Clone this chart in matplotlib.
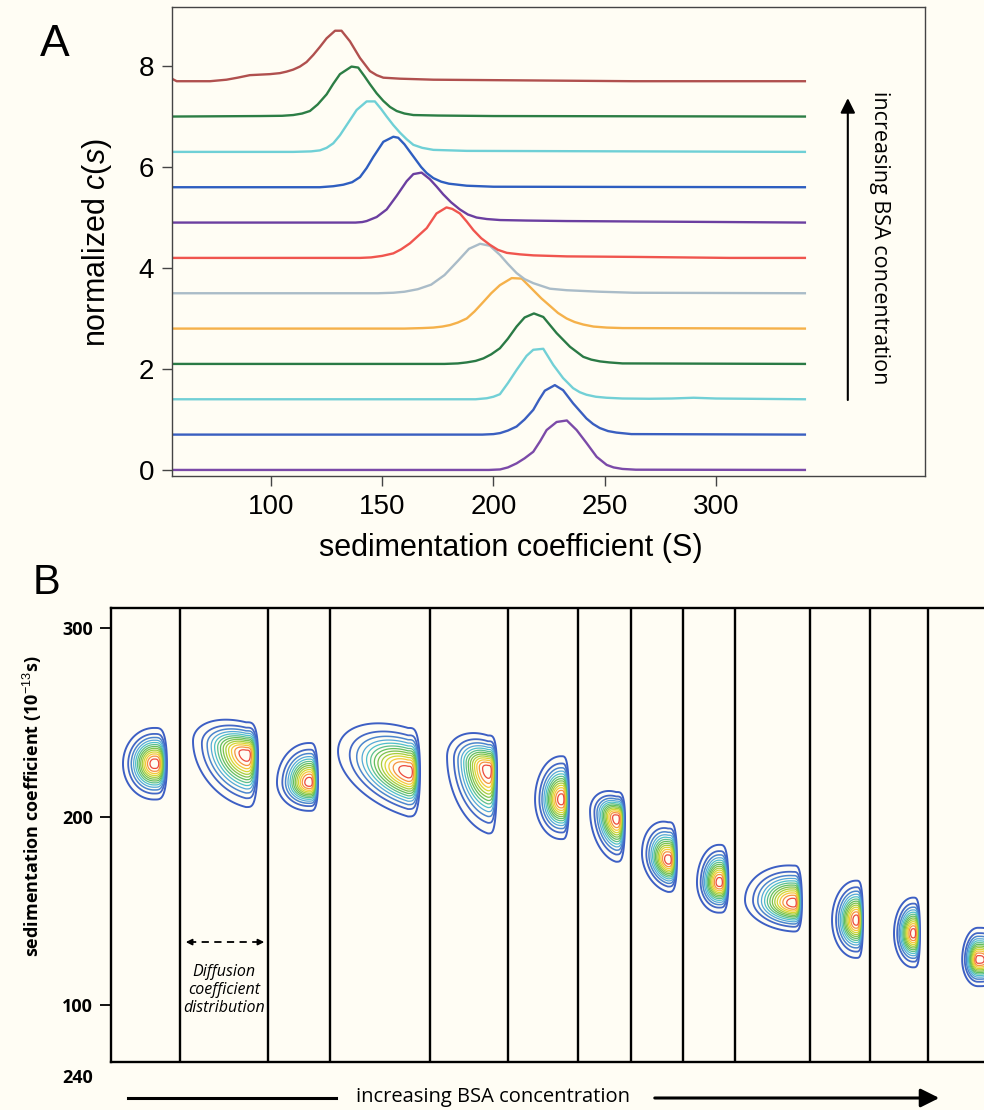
import numpy as np
import matplotlib
matplotlib.use('Agg')
import matplotlib.pyplot as plt
from matplotlib.lines import Line2D

plt.rcParams['font.family'] = ['Liberation Sans', 'DejaVu Sans']
plt.rcParams['mathtext.fontset'] = 'custom'
plt.rcParams['mathtext.rm'] = 'Liberation Sans'
plt.rcParams['mathtext.it'] = 'Liberation Sans:italic'

bg = '#FFFDF4'

# panel A: c(s) curves, bottom (lowest BSA) to top
baselines = [0.0, 0.7, 1.4, 2.1, 2.8, 3.5, 4.2, 4.9, 5.6, 6.3, 7.0, 7.7]
curve_colors = ['#7B4AA8', '#3A5FC0', '#72D0D6', '#2A7A45', '#F5B14A', '#AABCC8',
                '#F0554E', '#6B3FA0', '#2E5EC0', '#6FD0D6', '#2C7E45', '#B0504E']
curve_s = [
    [55, 198, 203, 206.5, 210.4, 214, 217.9, 221, 223.9, 228.4, 233, 237.4, 241.9, 246.4, 250.9,
     254, 258, 264, 340],
    [55, 195, 200, 203, 206.5, 210.4, 214, 217.9, 220.5, 223.1, 227.6, 231.3, 235.8, 241.8, 244.8,
     247.8, 251.5, 255.3, 262, 340],
    [55, 192, 197, 200, 202.9, 206.5, 210.4, 214.9, 217.9, 222.4, 226.9, 231.3, 235.8, 238.8, 241.8,
     246, 250.8, 258, 270, 280, 290, 300, 340],
    [55, 178, 184, 188, 192, 195.5, 199, 202.9, 206.5, 210.4, 214, 218.2, 222.4, 228.4, 234.4, 240.4,
     244, 247.9, 252, 258, 340],
    [55, 160, 168, 173, 177, 180.5, 184, 188, 191.5, 195.5, 199, 202.9, 208.2, 212.7, 217.9, 221.5,
     225.4, 229, 232.9, 236.5, 240.4, 245, 250.9, 258, 340],
    [55, 148, 155, 160, 166, 172, 178, 184, 189, 194, 198.4, 202.9, 206.5, 210.4, 214, 217.9, 225.4,
     232.9, 247.9, 263, 340],
    [55, 140, 145, 150, 155, 158.5, 162.5, 166, 170, 174.4, 178.9, 181.5, 184.9, 188, 191, 194.5,
     198.4, 202, 206, 212, 218, 233, 263, 306, 340],
    [55, 138, 141, 143, 147.5, 152, 156.5, 161, 164, 167.7, 171.4, 174.5, 177.4, 181, 184.9, 188.5,
     192.4, 197, 203, 215, 233, 306, 340],
    [55, 122, 128, 132.5, 136.5, 140, 143, 146, 150.5, 155, 157.2, 160, 162.5, 165, 167.5, 170, 173,
     176.5, 180, 188, 200, 340],
    [55, 110, 118, 122, 125, 128, 131, 134, 138.5, 143, 146.7, 149.5, 152, 155, 158, 161, 164, 168,
     173, 188, 340],
    [55, 95, 105, 110, 114, 117.5, 121, 125, 128, 131, 136.2, 139.2, 142, 144.5, 147.5, 150.5, 153.5,
     156.5, 160, 164, 175, 200, 340],
    [55, 57.6, 65, 72.6, 80, 85, 90.5, 99.5, 104, 107, 110, 113, 116, 119, 122, 125, 128.8, 131.7,
     135.5, 140, 144.5, 147.5, 150.5, 158, 173, 203, 263, 340],
]
curve_c = [
    [0, 0, 0.01, 0.05, 0.13, 0.23, 0.36, 0.57, 0.79, 0.95, 0.98, 0.79, 0.53, 0.26, 0.10, 0.05, 0.02,
     0.005, 0],
    [0, 0, 0.01, 0.03, 0.08, 0.16, 0.30, 0.49, 0.69, 0.87, 0.98, 0.88, 0.62, 0.32, 0.21, 0.13, 0.07,
     0.04, 0.01, 0],
    [0, 0, 0.02, 0.05, 0.10, 0.32, 0.58, 0.86, 0.98, 1.0, 0.68, 0.42, 0.22, 0.14, 0.09, 0.05, 0.03,
     0.015, 0.01, 0.015, 0.03, 0.015, 0],
    [0, 0, 0.01, 0.03, 0.06, 0.11, 0.19, 0.31, 0.50, 0.74, 0.92, 1.0, 0.93, 0.61, 0.34, 0.14, 0.085,
     0.05, 0.03, 0.01, 0],
    [0, 0, 0.01, 0.02, 0.04, 0.07, 0.12, 0.20, 0.34, 0.53, 0.70, 0.86, 1.0, 0.99, 0.76, 0.60, 0.45,
     0.31, 0.20, 0.13, 0.08, 0.04, 0.02, 0.01, 0],
    [0, 0, 0.01, 0.03, 0.08, 0.17, 0.36, 0.64, 0.88, 0.98, 0.94, 0.76, 0.58, 0.40, 0.28, 0.20, 0.09,
     0.06, 0.03, 0.01, 0],
    [0, 0, 0.01, 0.04, 0.09, 0.17, 0.29, 0.43, 0.59, 0.88, 1.0, 0.97, 0.88, 0.72, 0.55, 0.39, 0.26,
     0.16, 0.10, 0.07, 0.05, 0.03, 0.02, 0.0, 0],
    [0, 0, 0.01, 0.03, 0.11, 0.26, 0.53, 0.82, 0.96, 0.99, 0.86, 0.71, 0.56, 0.40, 0.26, 0.16, 0.10,
     0.07, 0.05, 0.04, 0.03, 0.01, 0],
    [0, 0, 0.02, 0.05, 0.10, 0.20, 0.38, 0.60, 0.90, 1.0, 0.98, 0.85, 0.70, 0.55, 0.40, 0.28, 0.18,
     0.11, 0.07, 0.03, 0.01, 0],
    [0, 0, 0.01, 0.03, 0.08, 0.17, 0.33, 0.53, 0.83, 1.0, 1.0, 0.85, 0.70, 0.53, 0.38, 0.25, 0.14,
     0.08, 0.04, 0.02, 0],
    [0, 0.01, 0.015, 0.03, 0.06, 0.11, 0.24, 0.44, 0.65, 0.84, 0.99, 0.97, 0.80, 0.64, 0.46, 0.31,
     0.19, 0.11, 0.06, 0.03, 0.02, 0.01, 0],
    [0.06, 0.0, 0.0, 0.0, 0.03, 0.07, 0.12, 0.14, 0.16, 0.19, 0.23, 0.29, 0.38, 0.52, 0.68, 0.85, 1.0,
     1.0, 0.79, 0.46, 0.20, 0.12, 0.07, 0.05, 0.03, 0.02, 0.0, 0],
]

# panel B: 2D c(s, D) blobs, one per column (x in 0-100 column units)
dividers = [7.9, 18.0, 25.1, 36.5, 45.5, 53.5, 59.6, 65.5, 71.5, 80.1, 86.9, 93.6]
blob_x = [4.93, 15.46, 22.68, 34.02, 43.18, 51.55, 57.85, 63.80, 69.64, 78.12, 85.34, 91.87, 99.3]
blob_s = [228, 233, 218, 223.6, 224.7, 209, 199, 177, 165, 154, 145, 138, 124]
blob_left = [1.37, 9.39, 19.01, 26.0, 38.49, 48.57, 54.87, 60.82, 67.12, 72.62, 82.59, 89.69, 97.5]
blob_right = [6.41, 16.84, 23.71, 35.4, 44.22, 52.46, 58.88, 64.83, 70.72, 79.15, 86.14, 92.67, 101.3]
blob_top = [247, 250, 239, 247, 243, 232, 213, 197, 185, 174, 166, 157, 141]
blob_bottom = [209, 205, 203, 200, 191, 188, 176, 160, 149, 139, 125, 120, 110]
blob_raise = [0, 7, 0, 11, 7, 0, 4, 3.6, 0, 1.7, 0, 0, 0]

levels = np.linspace(0.05, 0.95, 13)
level_colors = ['#3D5FC4', '#4468C6', '#4C86CE', '#55A9D8', '#4FBFCB', '#5BBF8E', '#62BE5E',
                '#7CC24E', '#A6CD3C', '#D6D634', '#F4C83A', '#F59240', '#EC4A3C']
level_lw = [1.4, 1.3, 1.1] + [0.9] * 10

W, H = 984, 1110


def box(l, t, r, b):
    return [l / W, 1 - b / H, (r - l) / W, (b - t) / H]


fig = plt.figure(figsize=(W / 100, H / 100), dpi=100, facecolor=bg)

# ---- panel A
axA = fig.add_axes(box(172, 7, 925, 476))
axA.set_facecolor(bg)
for base, ss, cc, col in zip(baselines, curve_s, curve_c, curve_colors):
    axA.plot(ss, np.array(cc) + base, color=col, lw=1.7, solid_joinstyle='round')
axA.set_xlim(55.5, 394)
axA.set_ylim(-0.12, 9.17)
axA.set_xticks([100, 150, 200, 250, 300])
axA.set_yticks([0, 2, 4, 6, 8])
for sp in axA.spines.values():
    sp.set_color('#444444')
    sp.set_linewidth(1.0)
axA.tick_params(length=7, width=1, color='#444444', labelsize=20, pad=6)
axA.set_xlabel('sedimentation coefficient (S)', fontsize=22, va='center')
axA.xaxis.set_label_coords(0.45, -0.153)
axA.set_ylabel('normalized $c$($s$)', fontsize=22, va='center')
axA.yaxis.set_label_coords((97 - 172) / 753, (476 - 243) / 469)
axA.annotate('', xy=(359.3, 7.42), xytext=(359.3, 1.33),
             arrowprops=dict(arrowstyle='-|>', color='black', lw=1.5, mutation_scale=22))
axA.text(373.7, 4.6, 'increasing BSA concentration', rotation=270, ha='center', va='center',
         fontsize=15.5, family='Open Sans')
fig.text(55 / W, 1 - 45 / H, 'A', fontsize=32, ha='center', va='center')

# ---- panel B
axB = fig.add_axes(box(111, 608, 984, 1062))
axB.set_facecolor(bg)
axB.set_xlim(0, 100)
axB.set_ylim(69.8, 310.6)
axB.spines['right'].set_visible(False)
for k in ['left', 'top', 'bottom']:
    axB.spines[k].set_linewidth(1.7)
    axB.spines[k].set_color('black')
axB.set_xticks([])
axB.set_yticks([100, 200, 300])
axB.tick_params(axis='y', length=8, width=1.3, pad=5, labelsize=13)
for lab in axB.get_yticklabels():
    lab.set_fontweight('bold')
    lab.set_family('Open Sans')
for d in dividers:
    axB.axvline(d, color='black', lw=1.7)

for i in range(len(blob_x)):
    x0, s0 = blob_x[i], blob_s[i]
    dl = x0 - blob_left[i]
    wl = dl / 2.45
    wr = (blob_right[i] - x0) / 1.565
    wu = (blob_top[i] - s0) / 2.45
    wd = (s0 - blob_bottom[i]) / 2.45
    xs = np.linspace(x0 - 3.2 * wl, x0 + 2.0 * wr, 320)
    ss = np.linspace(blob_bottom[i] - 15, blob_top[i] + 25, 320)
    X, S = np.meshgrid(xs, ss)
    dx = X - x0
    ridge = s0 - blob_raise[i] * np.minimum(dx, 0) / dl
    v = S - ridge
    ws = np.where(v > 0, wu, wd)
    qx = np.where(dx < 0, 0.5 * (dx / wl) ** 2, 0.5 * (dx / wr) ** 4)
    F = np.exp(-qx - 0.5 * (v / ws) ** 2)
    axB.contour(X, S, F, levels=levels, colors=level_colors, linewidths=level_lw)

# dashed double arrow + label in column 2
yarr = 133.4
axB.plot([8.9, 17.2], [yarr, yarr], color='black', lw=1.3, ls=(0, (4, 3)))
axB.annotate('', xy=(8.25, yarr), xytext=(9.4, yarr),
             arrowprops=dict(arrowstyle='-|>', color='black', lw=1.2, mutation_scale=9))
axB.annotate('', xy=(17.87, yarr), xytext=(16.7, yarr),
             arrowprops=dict(arrowstyle='-|>', color='black', lw=1.2, mutation_scale=9))
axB.text(12.94, 108, 'Diffusion\ncoefficient\ndistribution', ha='center', va='center',
         style='italic', fontsize=11.5, family='Open Sans', linespacing=1.2)

fig.text(32 / W, 1 - 806 / H, 'sedimentation coefficient (10$^{-13}$s)', rotation=90,
         fontweight='bold', fontsize=13, family='Open Sans', ha='center', va='center')
fig.text(46 / W, 1 - 583 / H, 'B', fontsize=30, ha='center', va='center')
fig.text(78 / W, 1 - 1078 / H, '240', fontweight='bold', fontsize=13, family='Open Sans',
         ha='center', va='center')

# bottom arrow
ya = 1 - 1098 / H
fig.text(493 / W, 1 - 1097 / H, 'increasing BSA concentration', ha='center', va='center',
         fontsize=14.5, family='Open Sans')
fig.add_artist(Line2D([128 / W, 336 / W], [ya, ya], color='black', lw=2.2, transform=fig.transFigure))
axB.annotate('', xy=(942 / W, ya), xytext=(652 / W, ya), xycoords='figure fraction',
             textcoords='figure fraction', annotation_clip=False,
             arrowprops=dict(arrowstyle='-|>', color='black', lw=2.2, mutation_scale=28))

fig.savefig('out.png', dpi=100, facecolor=bg)
